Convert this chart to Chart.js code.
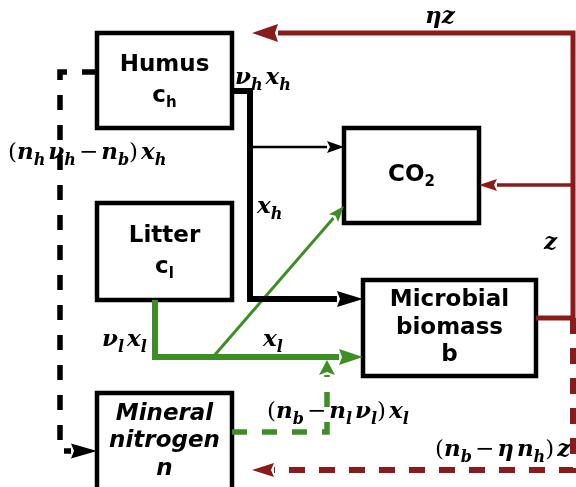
<!DOCTYPE html>
<html>
<head>
<meta charset="utf-8">
<script src="https://cdn.jsdelivr.net/npm/chart.js@4"></script>
<style>
  html, body { margin: 0; padding: 0; background: #fff; }
  #wrap { width: 576px; height: 487px; }
</style>
</head>
<body>
<div id="wrap"><canvas id="flowChart"></canvas></div>
<script>
// Pools (boxes), diagram units: x to the right, y downwards
const boxNames = ['Humus', 'Litter', 'CO2', 'Microbial biomass', 'Mineral nitrogen'];
const boxLines = [['Humus', 'c_h'], ['Litter', 'c_l'], ['CO_2'], ['Microbial', 'biomass', 'b'], ['Mineral', 'nitrogen', 'n']];
const boxLeft = [97, 97, 344, 363, 97];
const boxTop = [33, 203, 128, 280, 393];
const boxRight = [232, 232, 479, 536, 232];
const boxBottom = [128, 300, 223, 376, 490];

// Flows between pools (polylines, last point = arrow tip)
const flowNames = ['humus out', 'humus to CO2', 'litter out', 'litter to CO2', 'N to microbes',
  'N from humus', 'microbes out', 'microbes to humus', 'microbes to CO2', 'N from microbes'];
const flowX = [
  [232, 250, 250, 363],
  [250, 344],
  [155, 155, 363],
  [213, 344],
  [232, 327, 327],
  [97, 60, 60, 97],
  [536, 573],
  [573, 573, 252],
  [573, 479],
  [573, 573, 252]
];
const flowY = [
  [91, 91, 299, 299],
  [147, 147],
  [300, 357, 357],
  [357, 206],
  [432, 432, 360],
  [72, 72, 451, 451],
  [318, 318],
  [318, 33, 33],
  [185, 185],
  [318, 470, 470]
];
const flowKind = ['blackThick', 'blackThin', 'greenThick', 'greenThin', 'greenDash',
  'blackDash', 'red', 'red', 'redThin', 'redDash'];
const flowArrow = [true, true, true, true, true, true, false, true, true, true];

// Rate labels ("_" puts the next character in subscript)
const rateLabels = ['ηz', 'ν_h x_h', '(n_h ν_h − n_b) x_h', 'x_h', 'z', 'ν_l x_l', 'x_l',
  '(n_b − n_l ν_l) x_l', '(n_b − η n_h) z'];
const rateX = [425, 235, 8, 257, 544, 102, 263, 267, 435];
const rateY = [17, 78, 153, 207, 243, 340, 340, 412, 450];

const RED = '#8b1a1a';
const GREEN = '#3e8e26';
const kinds = {
  blackThick: { color: '#000', width: 6, dash: [], head: [26, 8] },
  blackThin: { color: '#000', width: 2.5, dash: [], head: [17, 6] },
  blackDash: { color: '#000', width: 5.5, dash: [15, 15], head: [26, 7.5] },
  greenThick: { color: GREEN, width: 6, dash: [], head: [24, 8] },
  greenThin: { color: GREEN, width: 3, dash: [], head: [16, 6] },
  greenDash: { color: GREEN, width: 5.5, dash: [15, 15], head: [15, 8] },
  red: { color: RED, width: 5, dash: [], head: [26, 9] },
  redThin: { color: RED, width: 3.5, dash: [], head: [18, 6] },
  redDash: { color: RED, width: 6, dash: [16, 14], head: [22, 7] }
};

function flowPoints(i) {
  const pts = flowX[i].map((x, j) => ({ x: x, y: flowY[i][j] }));
  if (flowArrow[i]) {
    const n = pts.length;
    const a = pts[n - 2], b = pts[n - 1];
    const len = Math.hypot(b.x - a.x, b.y - a.y);
    const h = kinds[flowKind[i]].head[0];
    pts[n - 1] = { x: b.x - (b.x - a.x) / len * h, y: b.y - (b.y - a.y) / len * h };
  }
  return pts;
}

const datasets = [];
flowNames.forEach((name, i) => {
  const k = kinds[flowKind[i]];
  datasets.push({
    label: name,
    data: flowPoints(i),
    showLine: true,
    borderColor: k.color,
    borderWidth: k.width,
    borderDash: k.dash,
    borderJoinStyle: 'miter',
    borderCapStyle: 'butt',
    pointRadius: 0,
    fill: false,
    tension: 0
  });
});
boxNames.forEach((name, i) => {
  const l = boxLeft[i], r = boxRight[i], t = boxTop[i], b = boxBottom[i];
  datasets.push({
    label: name,
    data: [{ x: l, y: t }, { x: r, y: t }, { x: r, y: b }, { x: l, y: b }, { x: l, y: t }, { x: r, y: t }],
    showLine: true,
    borderColor: '#000',
    borderWidth: 4.5,
    borderJoinStyle: 'miter',
    pointRadius: 0,
    fill: false,
    tension: 0
  });
});

// draws text where "_" makes the next char a subscript
function drawRich(ctx, text, x, y, align, f) {
  const toks = [];
  for (let i = 0; i < text.length; i++) {
    const ch = text[i];
    if (ch === '_') { toks.push({ t: text[i + 1], font: f.sub, dy: f.subDy }); i++; }
    else if (ch === ' ') toks.push({ gap: f.gap });
    else if ('()−'.includes(ch) && f.plain) toks.push({ t: ch, font: f.plain, dy: 0 });
    else toks.push({ t: ch, font: f.main, dy: 0 });
  }
  let total = 0;
  toks.forEach(tk => {
    if (tk.gap !== undefined) { tk.w = tk.gap; }
    else { ctx.font = tk.font; tk.w = ctx.measureText(tk.t).width; }
    total += tk.w;
  });
  let cx = align === 'center' ? x - total / 2 : x;
  ctx.textAlign = 'left';
  ctx.textBaseline = 'middle';
  ctx.fillStyle = '#000';
  toks.forEach(tk => {
    if (tk.t) { ctx.font = tk.font; ctx.fillText(tk.t, cx, y + tk.dy); }
    cx += tk.w;
  });
}

const mathFont = {
  main: 'bold italic 23px "DejaVu Serif"',
  sub: 'bold italic 16px "DejaVu Serif"',
  plain: '23px "DejaVu Serif"',
  subDy: 8,
  gap: 3
};
const boxFont = { main: 'bold 23px "DejaVu Sans"', sub: 'bold 15px "DejaVu Sans"', subDy: 7, gap: 6 };
const boxFontItalic = { main: 'bold italic 23px "DejaVu Sans"', sub: 'bold italic 15px "DejaVu Sans"', subDy: 7, gap: 6 };

const diagramText = {
  id: 'diagramText',
  beforeDatasetsDraw(chart) {
    const ctx = chart.ctx, sx = chart.scales.x, sy = chart.scales.y;
    ctx.save();
    rateLabels.forEach((lab, i) => {
      drawRich(ctx, lab, sx.getPixelForValue(rateX[i]), sy.getPixelForValue(rateY[i]), 'left', mathFont);
    });
    ctx.restore();
  },
  afterDatasetsDraw(chart) {
    const ctx = chart.ctx, sx = chart.scales.x, sy = chart.scales.y;
    ctx.save();
    // arrow heads
    flowNames.forEach((name, i) => {
      if (!flowArrow[i]) return;
      const k = kinds[flowKind[i]];
      const pts = chart.getDatasetMeta(i).data;
      const base = pts[pts.length - 1];
      const n = flowX[i].length;
      const tx = sx.getPixelForValue(flowX[i][n - 1]), ty = sy.getPixelForValue(flowY[i][n - 1]);
      const len = Math.hypot(tx - base.x, ty - base.y);
      const dx = (tx - base.x) / len, dy = (ty - base.y) / len;
      const hw = k.head[1];
      ctx.fillStyle = k.color;
      ctx.beginPath();
      ctx.moveTo(tx, ty);
      ctx.lineTo(base.x - dy * hw, base.y + dx * hw);
      ctx.lineTo(base.x + dx * 3, base.y + dy * 3);
      ctx.lineTo(base.x + dy * hw, base.y - dx * hw);
      ctx.closePath();
      ctx.fill();
    });
    // pool names
    boxNames.forEach((name, i) => {
      const lines = boxLines[i];
      const cx = sx.getPixelForValue((boxLeft[i] + boxRight[i]) / 2);
      const cy = (boxTop[i] + boxBottom[i]) / 2;
      const gap = lines.length === 3 ? 27.5 : 31;
      const f = i === 4 ? boxFontItalic : boxFont;
      lines.forEach((ln, j) => {
        drawRich(ctx, ln, cx, sy.getPixelForValue(cy + (j - (lines.length - 1) / 2) * gap), 'center', f);
      });
    });
    ctx.restore();
  }
};

new Chart(document.getElementById('flowChart'), {
  type: 'scatter',
  data: { datasets: datasets },
  options: {
    responsive: true,
    maintainAspectRatio: false,
    animation: false,
    layout: { padding: 0 },
    plugins: { legend: { display: false }, tooltip: { enabled: false } },
    scales: {
      x: { type: 'linear', min: 0, max: 576, display: false },
      y: { type: 'linear', min: 0, max: 487, reverse: true, display: false }
    }
  },
  plugins: [diagramText]
});
</script>
</body>
</html>
